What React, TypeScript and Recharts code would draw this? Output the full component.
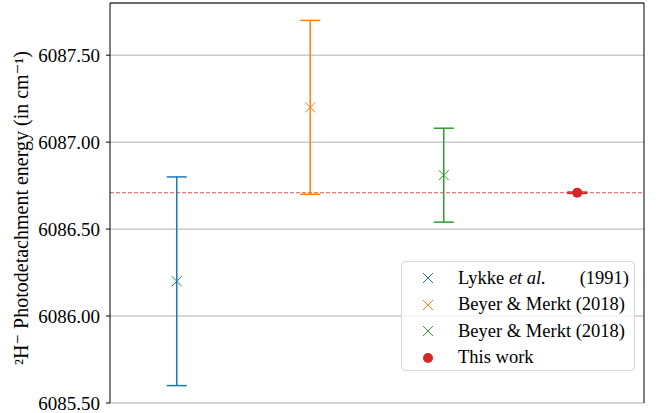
import React from 'react'
import { ComposedChart, Scatter, ErrorBar, XAxis, YAxis, CartesianGrid, ReferenceLine } from 'recharts'

const sources = ['Lykke et al. (1991)', 'Beyer & Merkt (2018)', 'Beyer & Merkt (2018)', 'This work']
const positions = [0, 1, 2, 3]
const energies = [6086.2, 6087.2, 6086.81, 6086.709]
const errors = [0.6, 0.5, 0.27, 0.004]
const colors = ['#1f77b4', '#ff7f0e', '#2ca02c', '#d62728']
const yTicks = [6085.5, 6086.0, 6086.5, 6087.0, 6087.5]
const thisWork = 6086.709

const FONT = '"Liberation Serif", "DejaVu Serif", serif'

const series = sources.map((name, i) => ({
  name,
  color: colors[i],
  data: [{ x: positions[i], y: energies[i], err: errors[i] }],
}))

const XMark = (color: string) => (props: any) => {
  const { cx, cy } = props
  const s = 5
  return (
    <g stroke={color} strokeWidth={1}>
      <line x1={cx - s} y1={cy - s} x2={cx + s} y2={cy + s} />
      <line x1={cx - s} y1={cy + s} x2={cx + s} y2={cy - s} />
    </g>
  )
}

const Dot = (color: string) => (props: any) => <circle cx={props.cx} cy={props.cy} r={5} fill={color} />

function YLabel() {
  return (
    <text
      x={0}
      y={0}
      transform="translate(21, 208) rotate(-90)"
      textAnchor="middle"
      dominantBaseline="central"
      fontFamily={FONT}
      fontSize={20}
      fill="#000"
    >
      ²H⁻ Photodetachment energy (in cm⁻¹)
    </text>
  )
}

function LegendBox() {
  return (
    <div
      style={{
        position: 'absolute',
        left: 401,
        top: 261,
        width: 234,
        height: 110,
        boxSizing: 'border-box',
        padding: '3px 0',
        border: '1px solid #d8d8d8',
        borderRadius: 4,
        background: 'rgba(255,255,255,0.8)',
        fontFamily: FONT,
        fontSize: 18.5,
        color: '#000',
      }}
    >
      {series.map((s, i) => (
        <div key={i} style={{ display: 'flex', alignItems: 'center', height: 26.5 }}>
          <svg width={56} height={20}>
            {i === 3 ? (
              <circle cx={26} cy={10} r={5} fill={s.color} />
            ) : (
              <g stroke={s.color} strokeWidth={1}>
                <line x1={21} y1={5} x2={31} y2={15} />
                <line x1={21} y1={15} x2={31} y2={5} />
              </g>
            )}
          </svg>
          {i === 0 ? (
            <span style={{ display: 'flex', width: 171, justifyContent: 'space-between' }}>
              <span>
                Lykke <i>et al.</i>
              </span>
              <span>(1991)</span>
            </span>
          ) : (
            <span style={{ whiteSpace: 'nowrap' }}>{s.name}</span>
          )}
        </div>
      ))}
    </div>
  )
}

export default function App() {
  return (
    <div style={{ position: 'absolute', left: 0, top: 0, width: 662, height: 413, background: '#fff' }}>
      <ComposedChart width={662} height={413} margin={{ top: 3, right: 18, bottom: 10, left: 0 }}>
        <CartesianGrid vertical={false} stroke="#b0b0b0" strokeWidth={1} />
        <XAxis
          type="number"
          dataKey="x"
          domain={[-0.5, 3.5]}
          ticks={[]}
          tick={false}
          tickLine={false}
          height={0}
          axisLine={{ stroke: '#000' }}
        />
        <YAxis
          type="number"
          dataKey="y"
          domain={[6085.5, 6087.8]}
          ticks={yTicks}
          interval={0}
          width={110}
          allowDataOverflow
          axisLine={{ stroke: '#000' }}
          tickLine={{ stroke: '#000' }}
          tickSize={4}
          tickMargin={6}
          tickFormatter={(v: number) => v.toFixed(2)}
          tick={{ fill: '#000', fontFamily: FONT, fontSize: 19 }}
          label={<YLabel />}
        />
        <ReferenceLine y={6087.8} stroke="#000" />
        <ReferenceLine x={3.5} stroke="#000" />
        <ReferenceLine y={thisWork} stroke="#d62728" strokeOpacity={0.8} strokeDasharray="4 2" strokeWidth={1} />
        {series.map((s, i) => (
          <Scatter
            key={i}
            name={s.name}
            data={s.data}
            fill={s.color}
            isAnimationActive={false}
            shape={i === 3 ? Dot(s.color) : XMark(s.color)}
          >
            <ErrorBar dataKey="err" direction="y" width={10} stroke={s.color} strokeWidth={1.5} />
          </Scatter>
        ))}
      </ComposedChart>
      <LegendBox />
    </div>
  )
}
